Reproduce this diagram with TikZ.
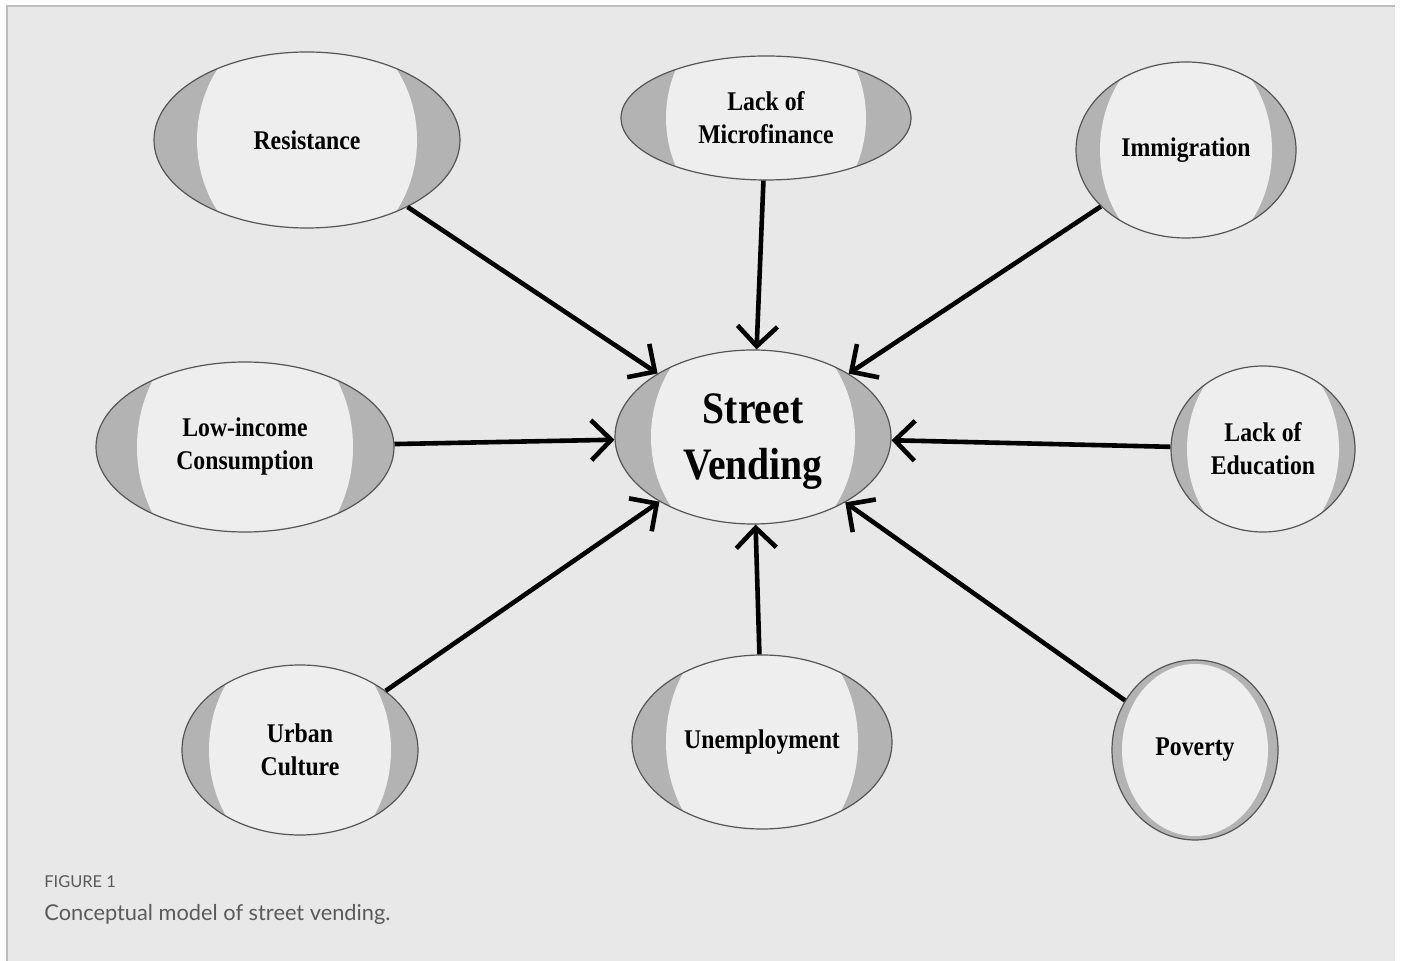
\documentclass[tikz,border=0pt]{standalone}
\usepackage{fontspec}
\usetikzlibrary{arrows.meta,shapes.geometric}
\newfontfamily\lblfont[FakeStretch=0.88]{Liberation Serif}
\newfontfamily\capfont{Lato}
\definecolor{panelbg}{HTML}{E8E8E8}
\definecolor{panelline}{HTML}{BDBDBD}
\definecolor{bandgray}{HTML}{B3B3B3}
\definecolor{innergray}{HTML}{EEEEEE}
\definecolor{edgegray}{HTML}{555555}
\definecolor{captext}{HTML}{5A5A5A}
\tikzset{
  bub/.style={ellipse, draw=edgegray, line width=0.6pt, inner sep=0pt, align=center,
    font=\lblfont\bfseries\fontsize{13.5}{16.5}\selectfont, text=black},
  bigbub/.style={bub, text depth=0pt, font=\lblfont\bfseries\fontsize{22.5}{28}\selectfont},
  arr/.style={line width=2.3pt, -{Straight Barb[length=10pt,width=20pt]}},
  captitle/.style={anchor=base west, inner sep=0pt, text=captext, font=\capfont\fontsize{8.2}{10}\selectfont},
  captionline/.style={anchor=base west, inner sep=0pt, text=captext, font=\capfont\fontsize{10.9}{13}\selectfont}
}
% #1 name, #2 cx, #3 cy, #4 rx, #5 ry, #6 inner a, #7 inner b, #8 style, #9 text
\newcommand\mybub[9]{%
  \begin{scope}
    \fill[bandgray] (#2,#3) ellipse [x radius=#4*0.5pt, y radius=#5*0.5pt];
    \clip (#2,#3) ellipse [x radius=#4*0.5pt, y radius=#5*0.5pt];
    \fill[innergray] (#2,#3) ellipse [x radius=#6*0.5pt, y radius=#7*0.5pt];
  \end{scope}
  \node[#8, minimum width=#4*1pt, minimum height=#5*1pt] (#1) at (#2,#3) {#9};
}
\begin{document}
\begin{tikzpicture}[x=0.5pt,y=-0.5pt]
\useasboundingbox (0,0) rectangle (1402,961);
\fill[white] (0,0) rectangle (1402,961);
\fill[panelbg] (7,6) rectangle (1395,961);
\draw[panelline, line width=0.8pt] (7,961) -- (7,6) -- (1395,6);

\mybub{res}{307}{140}{153}{88}{110}{122}{bub}{Resistance}
\mybub{mic}{766}{118}{145}{62}{100}{112}{bub}{Lack of\\Microfinance}
\mybub{imm}{1186}{150}{110}{88}{86}{109}{bub}{Immigration}
\mybub{low}{245}{447}{149}{85}{108}{128}{bub}{Low-income\\Consumption}
\mybub{sv}{753}{437}{138}{87}{102}{117}{bigbub}{Street\\Vending}
\mybub{edu}{1263}{449}{92}{83}{76}{99}{bub}{Lack of\\Education}
\mybub{urb}{300}{750}{118}{85}{91}{113}{bub}{Urban\\Culture}
\mybub{une}{762}{742}{130}{87}{96}{121}{bub}{Unemployment}
\mybub{pov}{1195}{750}{83}{90}{73}{86}{bub}{Poverty}

\draw[arr] (res) -- (sv);
\draw[arr] (mic) -- (sv);
\draw[arr] (imm) -- (sv);
\draw[arr] (low) -- (sv);
\draw[arr] (edu) -- (sv);
\draw[arr] (urb) -- (sv);
\draw[arr] (une) -- (sv);
\draw[arr] (pov) -- (sv);

\node[captitle] (figlabel) at (44,887) {FIGURE 1};
\node[captionline] (figcap) at (44,920) {Conceptual model of street vending.};
\end{tikzpicture}
\end{document}
